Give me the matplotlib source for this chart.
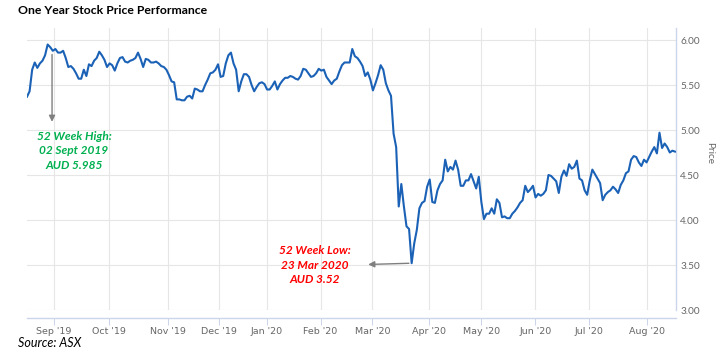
import matplotlib
matplotlib.use("Agg")
import matplotlib.pyplot as plt
from matplotlib.ticker import FuncFormatter

# --- Data (one value per trading day, Aug 2019 - Aug 2020) ---
prices = [
    5.37, 5.43, 5.67, 5.75, 5.69, 5.74, 5.77, 5.83, 5.95, 5.92,
    5.88, 5.90, 5.86, 5.86, 5.88, 5.80, 5.70, 5.71, 5.68, 5.63,
    5.57, 5.57, 5.67, 5.60, 5.73, 5.71, 5.77, 5.80, 5.87, 5.83,
    5.78, 5.70, 5.74, 5.72, 5.66, 5.74, 5.80, 5.81, 5.76, 5.75,
    5.77, 5.78, 5.80, 5.86, 5.79, 5.70, 5.79, 5.78, 5.75, 5.75,
    5.76, 5.74, 5.71, 5.70, 5.67, 5.61, 5.54, 5.53, 5.34, 5.34,
    5.33, 5.33, 5.37, 5.38, 5.35, 5.46, 5.45, 5.43, 5.43, 5.50,
    5.56, 5.63, 5.64, 5.67, 5.73, 5.59, 5.60, 5.74, 5.83, 5.86,
    5.74, 5.67, 5.43, 5.54, 5.62, 5.62, 5.59, 5.50, 5.43, 5.48,
    5.52, 5.53, 5.51, 5.45, 5.45, 5.49, 5.54, 5.45, 5.51, 5.55,
    5.58, 5.58, 5.60, 5.59, 5.57, 5.56, 5.60, 5.68, 5.67, 5.63,
    5.59, 5.60, 5.63, 5.68, 5.66, 5.67, 5.59, 5.55, 5.51, 5.55,
    5.57, 5.65, 5.72, 5.75, 5.75, 5.75, 5.90, 5.82, 5.80, 5.76,
    5.71, 5.60, 5.64, 5.56, 5.44, 5.52, 5.61, 5.72, 5.67, 5.52,
    5.44, 5.38, 4.96, 4.81, 4.15, 4.40, 4.15, 3.93, 3.90, 3.52,
    3.74, 3.89, 4.13, 4.19, 4.21, 4.37, 4.45, 4.20, 4.19, 4.33,
    4.40, 4.44, 4.67, 4.54, 4.59, 4.56, 4.66, 4.56, 4.38, 4.38,
    4.44, 4.44, 4.51, 4.43, 4.35, 4.48, 4.20, 4.01, 4.07, 4.07,
    4.13, 4.07, 4.23, 4.19, 4.03, 4.04, 4.02, 4.02, 4.07, 4.10,
    4.14, 4.19, 4.22, 4.38, 4.31, 4.34, 4.38, 4.25, 4.29, 4.27,
    4.29, 4.33, 4.50, 4.49, 4.46, 4.43, 4.30, 4.48, 4.55, 4.49,
    4.62, 4.57, 4.59, 4.66, 4.46, 4.44, 4.33, 4.28, 4.44, 4.56,
    4.51, 4.46, 4.41, 4.22, 4.28, 4.31, 4.33, 4.37, 4.34, 4.30,
    4.39, 4.44, 4.52, 4.54, 4.67, 4.71, 4.70, 4.64, 4.60, 4.67,
    4.64, 4.70, 4.76, 4.81, 4.74, 4.97, 4.80, 4.85, 4.81, 4.75,
    4.77, 4.76,
]
days = list(range(len(prices)))

# first trading day of each month (index into prices)
month_idx = [10.4, 31.7, 54.5, 74.3, 92.8, 113.7, 133.8, 155.9, 176.0, 196.9, 217.8, 240.2]
month_labels = ["Sep '19", "Oct '19", "Nov '19", "Dec '19", "Jan '20", "Feb '20",
                "Mar '20", "Apr '20", "May '20", "Jun '20", "Jul '20", "Aug '20"]
price_ticks = [3.00, 3.50, 4.00, 4.50, 5.00, 5.50, 6.00]

high_day, high_text = 9.7, "52 Week High:\n02 Sept 2019\nAUD 5.985"
low_day, low_price, low_text = 149, 3.52, "52 Week Low:\n23 Mar 2020\nAUD 3.52"

AXIS_COL = "#ccd6eb"
GRID_COL = "#e6e6e6"
LABEL_COL = "#666666"

fig = plt.figure(figsize=(7.24, 3.58), dpi=100)
ax = fig.add_axes([27 / 724, 1 - 310 / 358, (676 - 27) / 724, (310 - 28) / 358])

ax.plot(days, prices, color="#1b62b7", lw=1.5, solid_joinstyle="round", zorder=3)

ax.set_xlim(0, 251.4)
ax.set_ylim(3.0, 6.0 + 12 / 90)

ax.set_xticks(month_idx)
ax.set_xticklabels(month_labels)
ax.set_yticks(price_ticks)
ax.yaxis.set_major_formatter(FuncFormatter(lambda v, p: f"{v:.2f}"))
ax.yaxis.tick_right()
ax.tick_params(axis="y", length=0, pad=3, labelsize=7.2, labelcolor=LABEL_COL)
ax.tick_params(axis="x", length=5, width=0.75, color=AXIS_COL, pad=1.5,
               labelsize=6.8, labelcolor=LABEL_COL)
for lbl in ax.get_xticklabels() + ax.get_yticklabels():
    lbl.set_family("Lato")

ax.grid(True, color=GRID_COL, lw=0.8)
ax.set_axisbelow(True)

for side in ["top", "left"]:
    ax.spines[side].set_visible(False)
ax.spines["right"].set_color(AXIS_COL)
ax.spines["right"].set_linewidth(1)
ax.spines["bottom"].set_color(AXIS_COL)
ax.spines["bottom"].set_linewidth(1)
ax.spines["bottom"].set_position(("outward", 5.8))

# annotations
ax.annotate("", xy=(high_day, 5.06), xytext=(high_day, 5.87),
            arrowprops=dict(arrowstyle="-|>", color="#7f7f7f", lw=1, mutation_scale=9))
ax.text(18.2, 4.77, high_text, color="#00b050", fontsize=8.6, family="Lato",
        weight="bold", style="italic", ha="center", va="center", linespacing=1.4)

ax.annotate("", xy=(131.1, 3.505), xytext=(low_day, low_price),
            arrowprops=dict(arrowstyle="-|>", color="#7f7f7f", lw=1, mutation_scale=9))
ax.text(111.4, 3.50, low_text, color="#ff0000", fontsize=8.6, family="Lato",
        weight="bold", style="italic", ha="center", va="center", linespacing=1.4)

fig.text(18 / 724, 1 - 10 / 358, "One Year Stock Price Performance", fontsize=8.8,
         family="Lato", weight="bold", color="black", ha="left", va="center")
fig.text(18 / 724, 1 - 343 / 358, "Source: ASX", fontsize=9, family="Lato",
         style="italic", color="black", ha="left", va="center")
fig.text(710 / 724, 1 - 153 / 358, "Price", fontsize=7.2, family="Lato",
         color=LABEL_COL, rotation=270, ha="center", va="center")

fig.savefig("out.png", dpi=100)
